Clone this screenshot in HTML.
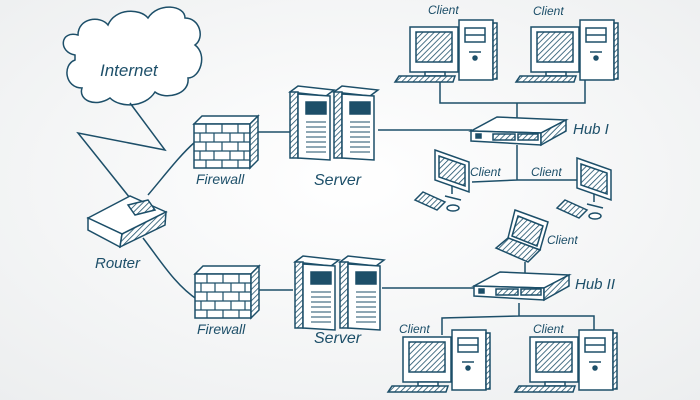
<!DOCTYPE html>
<html><head><meta charset="utf-8"><style>
html,body{margin:0;padding:0;width:700px;height:400px;overflow:hidden;background:#fafbfb}
svg{display:block}
text{font-family:"Liberation Sans",sans-serif;fill:#1d4f69;font-style:italic}
</style></head><body>
<svg width="700" height="400" viewBox="0 0 700 400">
<defs>
<radialGradient id="bg" cx="50%" cy="45%" r="75%"><stop offset="0" stop-color="#ffffff"/><stop offset="1" stop-color="#eceeef"/></radialGradient>
<pattern id="h" width="4" height="4" patternUnits="userSpaceOnUse" patternTransform="rotate(45)"><rect width="4" height="4" fill="#fff"/><line x1="0" y1="0" x2="0" y2="4" stroke="#1d4f69" stroke-width="1.6"/></pattern>
<g id="pc" stroke="#1d4f69" stroke-width="1.5" fill="#fff">
 <rect x="15" y="7" width="48" height="45"/>
 <rect x="21" y="12" width="36" height="30" fill="url(#h)"/>
 <rect x="30" y="52" width="20" height="4"/>
 <polygon points="4,56 60,56 58,62 0,62" fill="url(#h)"/>
 <rect x="64" y="0" width="34" height="60"/>
 <rect x="98" y="3" width="4" height="56" fill="url(#h)"/>
 <rect x="70" y="8" width="20" height="14"/>
 <line x1="70" y1="15" x2="90" y2="15"/>
 <line x1="74" y1="32" x2="86" y2="32"/>
 <circle cx="80" cy="38" r="2" fill="#1d4f69"/>
</g>
<g id="fw" stroke="#1d4f69" stroke-width="1.5" fill="#fff">
 <polygon points="0,8 8,0 64,0 56,8"/>
 <rect x="0" y="8" width="56" height="44"/>
 <polygon points="56,8 64,0 64,44 56,52" fill="url(#h)"/>
 <path d="M0 17H56M0 26H56M0 35H56M0 44H56M12 8V17M28 8V17M44 8V17M6 17V26M20 17V26M36 17V26M50 17V26M12 26V35M28 26V35M44 26V35M6 35V44M20 35V44M36 35V44M50 35V44M12 44V52M28 44V52M44 44V52" fill="none" stroke-width="1.2"/>
</g>
<g id="srv" stroke="#1d4f69" stroke-width="1.5" fill="#fff">
 <polygon points="0,6 8,0 44,4 36,10"/>
 <rect x="0" y="6" width="8" height="66" fill="url(#h)"/>
 <polygon points="8,8 40,10 40,74 8,72"/>
 <rect x="16" y="16" width="20" height="12" fill="#1d4f69"/>
 <path d="M16 36H36M16 41H36M16 46H36M16 51H36M16 56H36M16 61H36M16 66H36" fill="none" stroke-width="1"/>
</g>
<g id="hub" stroke="#1d4f69" stroke-width="1.5" fill="#fff">
 <polygon points="0,14 26,0 95,3 70,16"/>
 <polygon points="0,14 70,16 70,28 0,24"/>
 <polygon points="70,16 95,3 95,14 70,28" fill="url(#h)"/>
 <rect x="5" y="17" width="5" height="4" fill="#1d4f69"/>
 <rect x="22" y="17" width="22" height="6" fill="url(#h)"/>
 <rect x="47" y="17" width="20" height="6" fill="url(#h)"/>
</g>
<g id="cl" stroke="#1d4f69" stroke-width="1.5" fill="#fff">
 <polygon points="0,0 34,12 34,42 0,30"/>
 <polygon points="4,6 30,15 30,36 4,27" fill="url(#h)"/>
 <path d="M17 36V44M10 46L26 50" fill="none"/>
 <polygon points="-12,42 10,52 2,60 -20,50" fill="url(#h)"/>
 <ellipse cx="18" cy="58" rx="6" ry="3"/>
</g>
</defs>
<rect width="700" height="400" fill="url(#bg)"/>
<g fill="none" stroke="#1d4f69" stroke-width="1.5">
 <path d="M75 55C58 52 60 30 78 35C78 18 100 15 108 25C115 8 140 8 148 18C158 2 185 5 185 18C200 18 205 38 195 45C208 55 200 78 188 78C190 95 165 100 155 92C145 108 120 108 110 98C95 108 78 100 82 88C65 88 62 65 75 60Z" fill="#fff"/>
 <path d="M130 103L165 150L78 133L130 198"/>
 <path d="M148 195C165 175 180 155 195 142"/>
 <path d="M143 238C160 260 175 285 198 300"/>
 <path d="M257 132H292M378 130H472"/>
 <path d="M257 290H293M382 288H474"/>
 <path d="M440 80V103H585V80M517 103V118M517 145V180L472 182M517 180L578 180"/>
 <path d="M525 262V275M519 303V316L442 318V335M519 316H594V335"/>
</g>
<use href="#fw" x="194" y="116"/>
<use href="#fw" x="195" y="266"/>
<use href="#srv" x="290" y="86"/>
<use href="#srv" x="334" y="86"/>
<use href="#srv" x="295" y="256"/>
<use href="#srv" x="340" y="256"/>
<use href="#hub" x="471" y="117"/>
<use href="#hub" x="474" y="272"/>
<use href="#pc" x="395" y="20"/>
<use href="#pc" x="516" y="20"/>
<use href="#pc" x="388" y="330"/>
<use href="#pc" x="515" y="330"/>
<use href="#cl" x="435" y="150"/>
<use href="#cl" x="577" y="158"/>
<g stroke="#1d4f69" stroke-width="1.5" fill="#fff">
 <polygon points="88,218 130,196 166,212 122,234"/>
 <polygon points="88,218 122,234 120,247 88,230"/>
 <polygon points="122,234 166,212 165,225 120,247" fill="url(#h)"/>
 <polygon points="128,205 148,200 155,210 135,215" fill="url(#h)"/>
</g>
<g stroke="#1d4f69" stroke-width="1.5" fill="#fff">
 <polygon points="515,210 548,222 540,250 508,238"/>
 <polygon points="518,216 543,226 537,246 512,236" fill="url(#h)"/>
 <polygon points="508,238 540,250 528,262 496,248" fill="url(#h)"/>
</g>
<text x="100" y="76" font-size="17">Internet</text>
<text x="196" y="184" font-size="14">Firewall</text>
<text x="314" y="185" font-size="16">Server</text>
<text x="95" y="268" font-size="15">Router</text>
<text x="197" y="334" font-size="14">Firewall</text>
<text x="314" y="343" font-size="16">Server</text>
<text x="573" y="134" font-size="15">Hub I</text>
<text x="575" y="289" font-size="15">Hub II</text>
<text x="428" y="14" font-size="12">Client</text>
<text x="533" y="15" font-size="12">Client</text>
<text x="470" y="176" font-size="12">Client</text>
<text x="531" y="176" font-size="12">Client</text>
<text x="547" y="244" font-size="12">Client</text>
<text x="399" y="333" font-size="12">Client</text>
<text x="533" y="333" font-size="12">Client</text>
</svg>
</body></html>
